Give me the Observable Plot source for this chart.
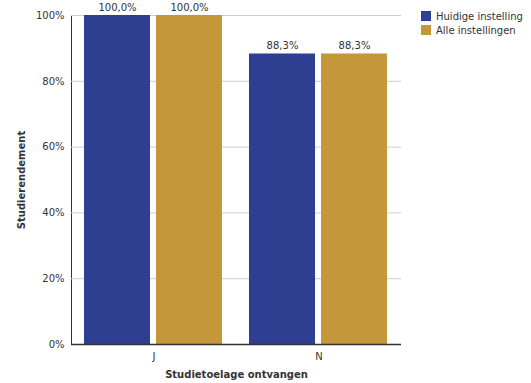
<!DOCTYPE html>
<html>
<head>
<meta charset="utf-8">
<script src="https://cdn.jsdelivr.net/npm/d3@7"></script>
<script src="https://cdn.jsdelivr.net/npm/@observablehq/plot@0.6"></script>
<style>
  body { margin: 0; background: #fff; font-family: "DejaVu Sans", Verdana, sans-serif; }
  #wrap { position: relative; width: 531px; height: 383px; }
  #legend { position: absolute; left: 421px; top: 9px; font-size: 10px; color: #333; }
  #legend .item { display: flex; align-items: center; height: 14px; }
  #legend .sw { width: 10px; height: 10px; margin-right: 5px; }
</style>
</head>
<body>
<div id="wrap"><div id="legend"></div></div>
<script>
const categories = ["J", "N"];
const series = ["Huidige instelling", "Alle instellingen"];
const huidige = [100.0, 88.3];
const alle = [100.0, 88.3];
const yTicks = [0, 20, 40, 60, 80, 100];
const colors = ["#2E3F91", "#C3973A"];

const data = [];
categories.forEach((c, i) => {
  data.push({cat: c, series: series[0], value: huidige[i]});
  data.push({cat: c, series: series[1], value: alle[i]});
});
const fmt = v => v.toFixed(1).replace(".", ",") + "%";

const chart = Plot.plot({
  width: 531,
  height: 383,
  marginLeft: 70,
  marginRight: 130,
  marginTop: 15,
  marginBottom: 39,
  style: {fontFamily: "'DejaVu Sans', Verdana, sans-serif", fontSize: "10px", color: "#333", background: "transparent"},
  fx: {domain: categories, padding: 0, label: "Studietoelage ontvangen", labelAnchor: "center", labelArrow: "none", tickSize: 0, tickPadding: 8, labelOffset: 33, axis: "bottom"},
  x: {domain: series, axis: null, paddingInner: 0.082, paddingOuter: 0.178},
  y: {domain: [0, 100], ticks: yTicks, tickFormat: d => d + "%", tickSize: 0, tickPadding: 7, label: "Studierendement", labelAnchor: "center", labelArrow: "none", labelOffset: 54, line: true},
  color: {domain: series, range: colors},
  marks: [
    Plot.gridY(yTicks, {stroke: "#cccccc", strokeOpacity: 1}),
    Plot.barY(data, {fx: "cat", x: "series", y: "value", fill: "series"}),
    Plot.text(data, {fx: "cat", x: "series", y: "value", text: d => fmt(d.value), dy: -8, fill: "#333", fontSize: 10}),
    Plot.ruleY([0], {stroke: "#333", strokeWidth: 1.5})
  ]
});
chart.querySelectorAll("g[aria-label='fx-axis label'] text, g[aria-label='y-axis label'] text").forEach(t => {
  t.setAttribute("font-weight", "bold");
});
document.getElementById("wrap").prepend(chart);

const legend = document.getElementById("legend");
series.forEach((s, i) => {
  const item = document.createElement("div");
  item.className = "item";
  const sw = document.createElement("div");
  sw.className = "sw";
  sw.style.background = colors[i];
  const lab = document.createElement("span");
  lab.textContent = s;
  item.appendChild(sw);
  item.appendChild(lab);
  legend.appendChild(item);
});
</script>
</body>
</html>
